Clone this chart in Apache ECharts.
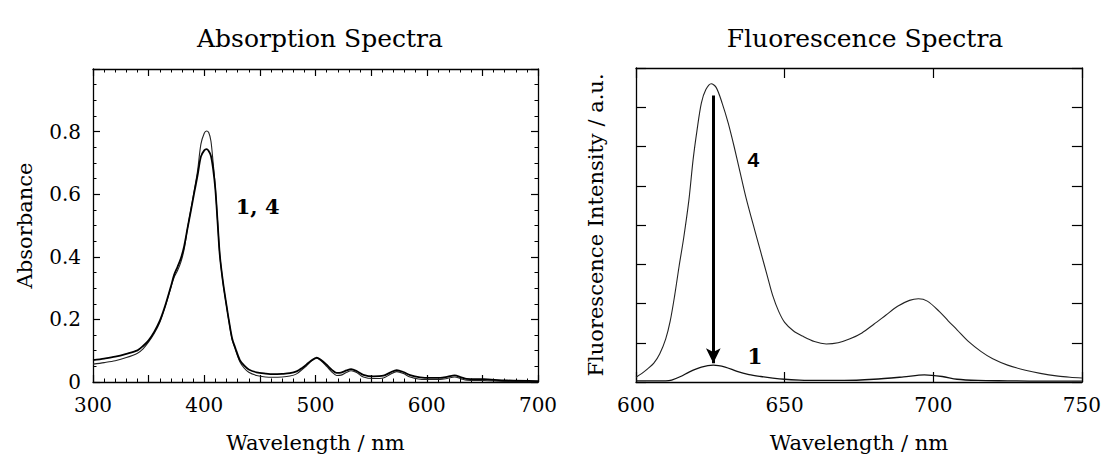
<!DOCTYPE html>
<html>
<head>
<meta charset="utf-8">
<script src="https://cdn.jsdelivr.net/npm/echarts@6/dist/echarts.min.js"></script>
<style>
  html, body { margin: 0; padding: 0; background: #fff; }
  #chart { width: 1104px; height: 463px; }
</style>
</head>
<body>
<div id="chart"></div>
<script>
// absorption spectra (wavelength in nm, absorbance)
const absWave = [300, 310, 320, 330, 340, 345, 350, 355, 360, 365, 370, 373, 376, 379, 382,
  385, 388, 391, 394, 397, 400, 402, 404, 406, 408, 410, 412, 414, 417, 420, 422, 425, 428,
  432, 436, 440, 447, 455, 462, 470, 477, 483, 488, 492, 496, 501, 505, 510, 515, 519, 523,
  528, 532, 537, 543, 552, 561, 567, 573, 579, 585, 594, 603, 612, 619, 625, 631, 636, 651, 672, 700];
const absorbA = [0.057, 0.062, 0.068, 0.078, 0.092, 0.106, 0.128, 0.155, 0.190, 0.242, 0.302, 0.335, 0.356, 0.383, 0.425,
  0.492, 0.552, 0.612, 0.675, 0.760, 0.795, 0.802, 0.797, 0.770, 0.700, 0.620, 0.512, 0.405, 0.313, 0.243, 0.198, 0.137, 0.104,
  0.065, 0.044, 0.031, 0.021, 0.016, 0.015, 0.016, 0.019, 0.026, 0.040, 0.052, 0.066, 0.076, 0.068, 0.050, 0.031, 0.021, 0.022,
  0.031, 0.036, 0.030, 0.016, 0.011, 0.013, 0.024, 0.033, 0.027, 0.016, 0.009, 0.008, 0.008, 0.012, 0.016, 0.010, 0.006, 0.005, 0.002, 0.001];
const absorbB = [0.070, 0.075, 0.081, 0.090, 0.101, 0.115, 0.133, 0.160, 0.195, 0.245, 0.305, 0.343, 0.368, 0.395, 0.435,
  0.492, 0.548, 0.605, 0.660, 0.720, 0.740, 0.744, 0.738, 0.722, 0.680, 0.615, 0.510, 0.405, 0.315, 0.245, 0.200, 0.140, 0.108,
  0.070, 0.052, 0.040, 0.031, 0.027, 0.025, 0.026, 0.028, 0.034, 0.045, 0.056, 0.068, 0.078, 0.070, 0.055, 0.038, 0.029, 0.030,
  0.037, 0.041, 0.035, 0.023, 0.018, 0.020, 0.030, 0.038, 0.032, 0.022, 0.015, 0.013, 0.013, 0.017, 0.021, 0.015, 0.010, 0.009, 0.005, 0.003];

// fluorescence spectra (wavelength in nm, intensity a.u.)
const fluWave4 = [600, 602, 604, 606, 608, 610, 611.5, 613, 614.5, 616, 617.8, 619.2, 620.5, 622, 623.5,
  625.3, 627, 629, 631, 633, 635, 637, 640, 642, 644, 646, 648, 650, 653, 656, 660, 664, 668, 672, 676,
  680, 684, 688, 692, 695, 698, 702, 705, 708, 712, 716, 720, 725, 731, 736, 742, 746, 750];
const fluor4 = [0.12, 0.22, 0.34, 0.48, 0.72, 1.10, 1.55, 2.20, 2.95, 3.65, 4.64, 5.66, 6.40, 7.11, 7.45,
  7.60, 7.50, 7.10, 6.60, 6.00, 5.35, 4.70, 3.85, 3.30, 2.75, 2.20, 1.80, 1.52, 1.30, 1.17, 1.03, 0.97, 1.00, 1.10, 1.25,
  1.47, 1.70, 1.93, 2.08, 2.12, 2.06, 1.80, 1.56, 1.33, 1.02, 0.78, 0.59, 0.43, 0.30, 0.22, 0.15, 0.12, 0.10];
const fluWave1 = [600, 605, 610, 612, 615, 618, 622, 626, 630, 634, 638, 642, 646, 650, 655, 660, 670, 680,
  690, 697, 703, 708, 715, 725, 735, 750];
const fluor1 = [0.03, 0.03, 0.03, 0.05, 0.14, 0.26, 0.38, 0.43, 0.38, 0.27, 0.19, 0.14, 0.10, 0.07, 0.05, 0.04, 0.04, 0.07,
  0.13, 0.18, 0.14, 0.07, 0.04, 0.03, 0.02, 0.02];

// annotations: [wavelength, value, text]
const absNotes = [[448, 0.56, '1, 4']];
const fluNoteSans = [[639.5, 5.66, '4']];
const fluNoteSerif = [[640, 0.66, '1']];
const quenchArrow = [[626, 7.30], [626, 0.48]];

const serif = '"DejaVu Serif", serif';
const ink = '#000';
const zip = (xs, ys) => xs.map((x, i) => [x, ys[i]]);

const chart = echarts.init(document.getElementById('chart'), null, { renderer: 'svg' });

function frameX(grid, min, max, opts) {
  return Object.assign({
    type: 'value', gridIndex: grid, min: min, max: max, interval: 50,
    axisLine: { onZero: false, lineStyle: { color: ink, width: 1.3 } },
    axisTick: { inside: true, length: 7, lineStyle: { color: ink, width: 1.2 } },
    splitLine: { show: false },
    axisLabel: { show: false }
  }, opts);
}
function frameY(grid, min, max, interval, opts) {
  return Object.assign({
    type: 'value', gridIndex: grid, min: min, max: max, interval: interval,
    axisLine: { show: true, onZero: false, lineStyle: { color: ink, width: 1.3 } },
    axisTick: { show: true, inside: true, length: 7, lineStyle: { color: ink, width: 1.2 } },
    splitLine: { show: false },
    axisLabel: { show: false }
  }, opts);
}
function note(axis, data, font, size) {
  return {
    type: 'scatter', xAxisIndex: axis, yAxisIndex: axis, data: data, symbolSize: 1, silent: true,
    itemStyle: { color: 'rgba(0,0,0,0)', opacity: 1 },
    label: { show: true, position: 'inside', formatter: p => p.data[2],
      fontFamily: font, fontSize: size, fontWeight: 'bold', color: ink }
  };
}
const tickFont = { fontFamily: serif, fontSize: 20, color: ink };
const nameFont = { fontFamily: serif, fontSize: 21, color: ink };
const absMinor = { show: true, splitNumber: 5, length: 3.5, lineStyle: { color: ink, width: 1 } };
const absYMinor = { show: true, splitNumber: 4, length: 3.5, lineStyle: { color: ink, width: 1 } };
const fluTick = { show: true, inside: true, length: 10, lineStyle: { color: ink, width: 1.2 } };

chart.setOption({
  animation: false,
  backgroundColor: '#fff',
  title: [
    { text: 'Absorption Spectra', left: 315, top: 21, textAlign: 'center',
      textStyle: { fontFamily: serif, fontSize: 25, fontWeight: 'normal', color: ink } },
    { text: 'Fluorescence Spectra', left: 860, top: 21, textAlign: 'center',
      textStyle: { fontFamily: serif, fontSize: 25, fontWeight: 'normal', color: ink } }
  ],
  grid: [
    { left: 93, top: 69, width: 445, height: 313 },
    { left: 636, top: 68, width: 448, height: 314 }
  ],
  xAxis: [
    frameX(0, 300, 700, {
      position: 'bottom', minorTick: absMinor,
      axisLabel: { show: true, margin: 13, formatter: v => (v % 100 === 0 ? String(v) : ''), ...tickFont },
      name: 'Wavelength / nm', nameLocation: 'middle', nameGap: 50, nameTextStyle: nameFont
    }),
    frameX(0, 300, 700, { position: 'top', minorTick: absMinor }),
    frameX(1, 600, 750, {
      position: 'bottom', axisTick: fluTick,
      axisLabel: { show: true, margin: 13, ...tickFont },
      name: 'Wavelength / nm', nameLocation: 'middle', nameGap: 50, nameTextStyle: nameFont
    }),
    frameX(1, 600, 750, { position: 'top', axisTick: fluTick })
  ],
  yAxis: [
    frameY(0, 0, 1, 0.2, {
      position: 'left', minorTick: absYMinor,
      axisLabel: { show: true, margin: 12, formatter: v => (v >= 1 ? '' : String(v)), ...tickFont },
      name: 'Absorbance', nameLocation: 'middle', nameGap: 58, nameRotate: 90, nameTextStyle: nameFont
    }),
    frameY(0, 0, 1, 0.2, { position: 'right', minorTick: absYMinor }),
    frameY(1, 0, 8, 1, {
      position: 'left', axisTick: fluTick,
      name: 'Fluorescence Intensity / a.u.', nameLocation: 'middle', nameGap: 30, nameRotate: 90, nameTextStyle: nameFont
    }),
    frameY(1, 0, 8, 1, { position: 'right', axisTick: fluTick })
  ],
  series: [
    { type: 'line', xAxisIndex: 0, yAxisIndex: 0, data: zip(absWave, absorbA), showSymbol: false, smooth: 0.3,
      lineStyle: { color: '#222', width: 1.1 }, silent: true },
    { type: 'line', xAxisIndex: 0, yAxisIndex: 0, data: zip(absWave, absorbB), showSymbol: false, smooth: 0.3,
      lineStyle: { color: '#000', width: 1.8 }, silent: true },
    note(0, absNotes, serif, 21),

    { type: 'line', xAxisIndex: 2, yAxisIndex: 2, data: zip(fluWave4, fluor4), showSymbol: false, smooth: 0.3,
      lineStyle: { color: '#222', width: 1.1 }, silent: true },
    { type: 'line', xAxisIndex: 2, yAxisIndex: 2, data: zip(fluWave1, fluor1), showSymbol: false, smooth: 0.3,
      lineStyle: { color: '#111', width: 1.3 }, silent: true,
      markLine: {
        silent: true, symbol: ['none', 'arrow'], symbolSize: [11, 15], label: { show: false },
        lineStyle: { color: '#000', width: 3, type: 'solid' },
        data: [[{ coord: quenchArrow[0] }, { coord: quenchArrow[1] }]]
      } },
    note(2, fluNoteSans, '"Liberation Sans", Arial, sans-serif', 21),
    note(2, fluNoteSerif, serif, 22)
  ]
});
</script>
</body>
</html>
